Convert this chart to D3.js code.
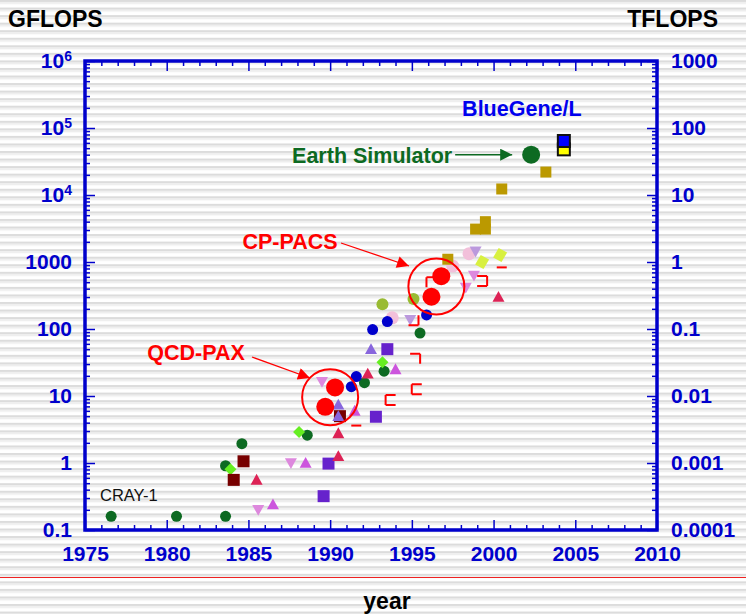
<!DOCTYPE html>
<html><head><meta charset="utf-8">
<script src="https://cdn.jsdelivr.net/npm/d3@7"></script>
<style>
html,body{margin:0;padding:0;background:#fff;}
svg{display:block;font-family:"Liberation Sans",Arial,sans-serif;}
</style></head>
<body>
<svg id="chart" width="746" height="614"></svg>
<script>
// ---------- data (year, GFLOPS) ----------
const xTickValues = [1975, 1980, 1985, 1990, 1995, 2000, 2005, 2010];
const xTickLabels = ["1975", "1980", "1985", "1990", "1995", "2000", "2005", "2010"];
const yLeftTickValues = [0.1, 1, 10, 100, 1000, 1e4, 1e5, 1e6];
const yLeftTickLabels = ["0.1", "1", "10", "100", "1000", "10^4", "10^5", "10^6"];
const yRightTickValues = [1e-4, 1e-3, 1e-2, 0.1, 1, 10, 100, 1000];
const yRightTickLabels = ["0.0001", "0.001", "0.01", "0.1", "1", "10", "100", "1000"];

const darkGreenCircles = [[1976.6, 0.16], [1980.6, 0.16], [1983.6, 0.16], [1983.6, 0.91], [1984.6, 1.94], [1988.6, 2.6], [1992.1, 15.8], [1993.3, 23.5], [1995.5, 87]];
const lightGreenDiamonds = [[1983.9, 0.81], [1988.1, 2.9], [1993.2, 32]];
const yellowDiamonds = [[1999.3, 1000], [2000.4, 1270]];
const oliveCircles = [[1993.2, 234], [1995.1, 280]];
const blueCircles = [[1991.3, 13.8], [1991.6, 19.5], [1992.6, 98], [1993.5, 129], [1995.9, 162]];
const pinkCircles = [[1993.8, 147], [1997.5, 870], [1998.5, 1330]];
const goldSquares = [[1997.2, 1100], [1998.9, 3100], [1999.5, 3100], [1999.5, 4000], [2000.5, 12300], [2003.2, 22000]];
const maroonSquares = [[1984.1, 0.56], [1984.7, 1.06], [1990.6, 5.0]];
const purpleSquares = [[1989.6, 0.32], [1989.9, 0.98], [1992.8, 4.9], [1993.5, 50]];
const crimsonTrianglesUp = [[1985.5, 0.56], [1990.5, 1.26], [1990.5, 2.77], [1992.3, 21.5], [2000.3, 300]];
const orchidTrianglesUp = [[1986.5, 0.24], [1988.5, 1.0], [1991.5, 6.0], [1994.0, 25]];
const purpleTrianglesUp = [[1990.5, 7.4], [1990.5, 5.0], [1992.5, 50]];
const violetTrianglesDown = [[1985.6, 0.2], [1987.6, 1.0], [1989.5, 16.3], [1998.3, 416], [1998.8, 630]];
const lavenderTrianglesDown = [[1994.9, 137], [1998.9, 1440]];
const redBrackets = [[1996.2, 500], [1999.3, 520], [2000.5, 700], [1995.1, 135], [1995.2, 36], [1995.3, 12.6], [1993.7, 8.7], [1991.6, 4.3]];
const redBracketSides = ["tl", "trb", "t", "rb", "tr", "ltb", "ltb", "b"];
const qcdPax = [[1989.7, 6.9], [1990.3, 13.4]];
const cpPacs = [[1996.2, 303], [1996.8, 614]];
const earthSimulator = [[2002.3, 40000]];
const blueGeneL = [[2004.3, 48000], [2004.3, 64000]];

// ---------- layout ----------
const svg = d3.select("#chart");
const L = 85, R = 657, T = 61, B = 530;
const x = d3.scaleLinear().domain([1975, 2010]).range([L, R]);
const y = d3.scaleLog().domain([0.1, 1e6]).range([B, T]);
const yR = d3.scaleLog().domain([1e-4, 1e3]).range([B, T]);
const BLUE = "#0000cc";
const TICKFONT = 21;

// striped background
const defs = svg.append("defs");
const pat = defs.append("pattern").attr("id", "stripes").attr("patternUnits", "userSpaceOnUse")
  .attr("width", 746).attr("height", 7.55);
pat.append("rect").attr("width", 746).attr("height", 7.55).attr("fill", "#ffffff");
pat.append("rect").attr("y", 0).attr("width", 746).attr("height", 2.2).attr("fill", "#dcdcdc");
pat.append("rect").attr("y", 2.2).attr("width", 746).attr("height", 1.8).attr("fill", "#eeeeee");
svg.append("rect").attr("width", 746).attr("height", 614).attr("fill", "url(#stripes)");

// red rule near bottom
svg.append("line").attr("x1", 0).attr("x2", 746).attr("y1", 577.5).attr("y2", 577.5)
  .attr("stroke", "#ee2222").attr("stroke-width", 1);

// titles
svg.append("text").attr("x", 8).attr("y", 27).text("GFLOPS")
  .attr("font-weight", "bold").attr("font-size", 23).attr("fill", "#000");
svg.append("text").attr("x", 718).attr("y", 27).attr("text-anchor", "end").text("TFLOPS")
  .attr("font-weight", "bold").attr("font-size", 23).attr("fill", "#000");
svg.append("text").attr("x", 387).attr("y", 609).attr("text-anchor", "middle").text("year")
  .attr("font-weight", "bold").attr("font-size", 23).attr("fill", "#000");

// ---------- axes ----------
function styleAxis(g) {
  g.select(".domain").remove();
  g.selectAll(".tick line").attr("stroke", BLUE).attr("stroke-width", 1.5);
  g.selectAll(".tick text").attr("fill", BLUE).attr("font-weight", "bold").attr("font-size", TICKFONT)
    .attr("font-family", "Liberation Sans, Arial, sans-serif");
}
const years = d3.range(1975, 2011);
const minorYears = years.filter(v => v % 5 !== 0);
const minorLog = [];
for (let e = -1; e < 6; e++) for (let m = 2; m <= 9; m++) minorLog.push(m * Math.pow(10, e));

// bottom: ticks pointing up
svg.append("g").attr("transform", `translate(0,${B})`)
  .call(d3.axisTop(x).tickValues(xTickValues).tickSize(10).tickFormat("")).call(styleAxis);
svg.append("g").attr("transform", `translate(0,${B})`)
  .call(d3.axisTop(x).tickValues(minorYears).tickSize(5).tickFormat("")).call(styleAxis);
svg.append("g").attr("transform", `translate(0,${B})`)
  .call(d3.axisBottom(x).tickValues(xTickValues).tickSize(0).tickPadding(16)
    .tickFormat((d, i) => xTickLabels[i])).call(styleAxis);
// top: ticks pointing down
svg.append("g").attr("transform", `translate(0,${T})`)
  .call(d3.axisBottom(x).tickValues(xTickValues).tickSize(10).tickFormat("")).call(styleAxis);
svg.append("g").attr("transform", `translate(0,${T})`)
  .call(d3.axisBottom(x).tickValues(minorYears).tickSize(5).tickFormat("")).call(styleAxis);
// left
svg.append("g").attr("transform", `translate(${L},0)`)
  .call(d3.axisRight(y).tickValues(yLeftTickValues).tickSize(10).tickFormat("")).call(styleAxis);
svg.append("g").attr("transform", `translate(${L},0)`)
  .call(d3.axisRight(y).tickValues(minorLog).tickSize(5).tickFormat("")).call(styleAxis);
const leftLab = svg.append("g").attr("transform", `translate(${L},0)`)
  .call(d3.axisLeft(y).tickValues(yLeftTickValues).tickSize(0).tickPadding(13)
    .tickFormat((d, i) => yLeftTickLabels[i])).call(styleAxis);
leftLab.selectAll(".tick text").each(function () {
  const t = d3.select(this);
  const s = t.text();
  if (s.includes("^")) {
    const [b, e] = s.split("^");
    t.text(null);
    t.append("tspan").text(b);
    t.append("tspan").text(e).attr("dy", "-0.55em").attr("font-size", 14);
  }
});
// right
svg.append("g").attr("transform", `translate(${R},0)`)
  .call(d3.axisLeft(yR).tickValues(yRightTickValues).tickSize(10).tickFormat("")).call(styleAxis);
svg.append("g").attr("transform", `translate(${R},0)`)
  .call(d3.axisLeft(y).tickValues(minorLog).tickSize(5).tickFormat("")).call(styleAxis);
svg.append("g").attr("transform", `translate(${R},0)`)
  .call(d3.axisRight(yR).tickValues(yRightTickValues).tickSize(0).tickPadding(14)
    .tickFormat((d, i) => yRightTickLabels[i])).call(styleAxis);

// frame
svg.append("rect").attr("x", L).attr("y", T).attr("width", R - L).attr("height", B - T)
  .attr("fill", "none").attr("stroke", BLUE).attr("stroke-width", 3.5);

// ---------- markers ----------
function shape(type, s) {
  const h = s / 2;
  switch (type) {
    case "square": return `M${-h},${-h}H${h}V${h}H${-h}Z`;
    case "diamond": return `M0,${-h}L${h},0L0,${h}L${-h},0Z`;
    case "tilted": return `M${-h * 0.2},${-h}L${h},${-h * 0.35}L${h * 0.2},${h}L${-h},${h * 0.35}Z`;
    case "up": return `M0,${-h}L${h},${h * 0.8}L${-h},${h * 0.8}Z`;
    case "down": return `M0,${h}L${h},${-h * 0.8}L${-h},${-h * 0.8}Z`;
  }
}
const series = [
  { data: darkGreenCircles, type: "circle", size: 11, color: "#0d6a22" },
  { data: lightGreenDiamonds, type: "diamond", size: 12, color: "#66ee22" },
  { data: oliveCircles, type: "circle", size: 12, color: "#99bb33" },
  { data: pinkCircles, type: "circle", size: 13, color: "#f2c0da" },
  { data: blueCircles, type: "circle", size: 11, color: "#0000cc" },
  { data: goldSquares, type: "square", size: 11, color: "#bb9900" },
  { data: yellowDiamonds, type: "tilted", size: 14, color: "#d8f040" },
  { data: maroonSquares, type: "square", size: 12, color: "#770000" },
  { data: purpleSquares, type: "square", size: 12, color: "#6622cc" },
  { data: crimsonTrianglesUp, type: "up", size: 12, color: "#dd2255" },
  { data: orchidTrianglesUp, type: "up", size: 12, color: "#cc55dd" },
  { data: purpleTrianglesUp, type: "up", size: 12, color: "#8866dd" },
  { data: violetTrianglesDown, type: "down", size: 12, color: "#dd88dd" },
  { data: lavenderTrianglesDown, type: "down", size: 12, color: "#bb99dd" },
  { data: qcdPax, type: "circle", size: 18, color: "#ff0000" },
  { data: cpPacs, type: "circle", size: 18, color: "#ff0000" },
  { data: earthSimulator, type: "circle", size: 18, color: "#0d6a22" },
];
const mg = svg.append("g");
series.forEach(s => {
  const g = mg.append("g");
  if (s.type === "circle") {
    g.selectAll("circle").data(s.data).join("circle")
      .attr("cx", d => x(d[0])).attr("cy", d => y(d[1])).attr("r", s.size / 2).attr("fill", s.color);
  } else {
    g.selectAll("path").data(s.data).join("path")
      .attr("transform", d => `translate(${x(d[0])},${y(d[1])})`)
      .attr("d", shape(s.type, s.size)).attr("fill", s.color);
  }
});
// open red bracket markers
const bh = 5;
mg.append("g").selectAll("path").data(redBrackets).join("path")
  .attr("transform", d => `translate(${x(d[0])},${y(d[1])})`)
  .attr("d", (d, i) => {
    const sd = redBracketSides[i];
    let p = "";
    if (sd.includes("t")) p += `M${-bh},${-bh}H${bh}`;
    if (sd.includes("r")) p += `M${bh},${-bh}V${bh}`;
    if (sd.includes("b")) p += `M${-bh},${bh}H${bh}`;
    if (sd.includes("l")) p += `M${-bh},${-bh}V${bh}`;
    return p;
  })
  .attr("fill", "none").attr("stroke", "#ff0000").attr("stroke-width", 2);

// BlueGene/L: yellow then blue boxes with black outline
const bgColors = ["#ffff00", "#0000ff"];
mg.append("g").selectAll("rect").data(blueGeneL).join("rect")
  .attr("x", d => x(d[0]) - 6).attr("y", d => y(d[1]) - 6).attr("width", 12).attr("height", 12)
  .attr("fill", (d, i) => bgColors[i]).attr("stroke", "#111").attr("stroke-width", 2);

// rings around QCD-PAX and CP-PACS
function ring(pts) {
  const cx = d3.mean(pts, d => x(d[0])), cy = d3.mean(pts, d => y(d[1]));
  svg.append("circle").attr("cx", cx).attr("cy", cy).attr("r", 28)
    .attr("fill", "none").attr("stroke", "#ff0000").attr("stroke-width", 2);
}
ring(qcdPax); ring(cpPacs);

// ---------- annotations ----------
defs.append("marker").attr("id", "arrRed").attr("viewBox", "0 0 10 10").attr("refX", 10).attr("refY", 5)
  .attr("markerWidth", 16).attr("markerHeight", 12).attr("markerUnits", "userSpaceOnUse").attr("orient", "auto")
  .append("path").attr("d", "M0,0L10,5L0,10Z").attr("fill", "#ff0000");
defs.append("marker").attr("id", "arrGreen").attr("viewBox", "0 0 10 10").attr("refX", 10).attr("refY", 5)
  .attr("markerWidth", 17).attr("markerHeight", 12).attr("markerUnits", "userSpaceOnUse").attr("orient", "auto")
  .append("path").attr("d", "M0,0L10,5L0,10Z").attr("fill", "#0d6a22");

function label(txt, px, py, color, anchor, weight, size) {
  svg.append("text").attr("x", px).attr("y", py).text(txt).attr("fill", color)
    .attr("text-anchor", anchor).attr("font-weight", weight).attr("font-size", size);
}
const es = earthSimulator[0];
label("Earth Simulator", x(es[0]) - 79, y(es[1]) + 8, "#0d6a22", "end", "bold", 21.5);
svg.append("line").attr("x1", x(es[0]) - 76).attr("y1", y(es[1])).attr("x2", x(es[0]) - 19).attr("y2", y(es[1]))
  .attr("stroke", "#0d6a22").attr("stroke-width", 1.5).attr("marker-end", "url(#arrGreen)");
const bg = blueGeneL[1];
label("BlueGene/L", x(bg[0]) - 42, y(bg[1]) - 25, "#0000ee", "middle", "bold", 21.5);
label("CP-PACS", 290, 249, "#ff0000", "middle", "bold", 21.5);
svg.append("line").attr("x1", 341).attr("y1", 243).attr("x2", 409).attr("y2", 266)
  .attr("stroke", "#ff0000").attr("stroke-width", 1.3).attr("marker-end", "url(#arrRed)");
label("QCD-PAX", 196, 360, "#ff0000", "middle", "bold", 21.5);
svg.append("line").attr("x1", 252).attr("y1", 357).attr("x2", 310).attr("y2", 378)
  .attr("stroke", "#ff0000").attr("stroke-width", 1.3).attr("marker-end", "url(#arrRed)");
label("CRAY-1", 100, 501, "#111", "start", "normal", 16.5);
</script>
</body></html>
